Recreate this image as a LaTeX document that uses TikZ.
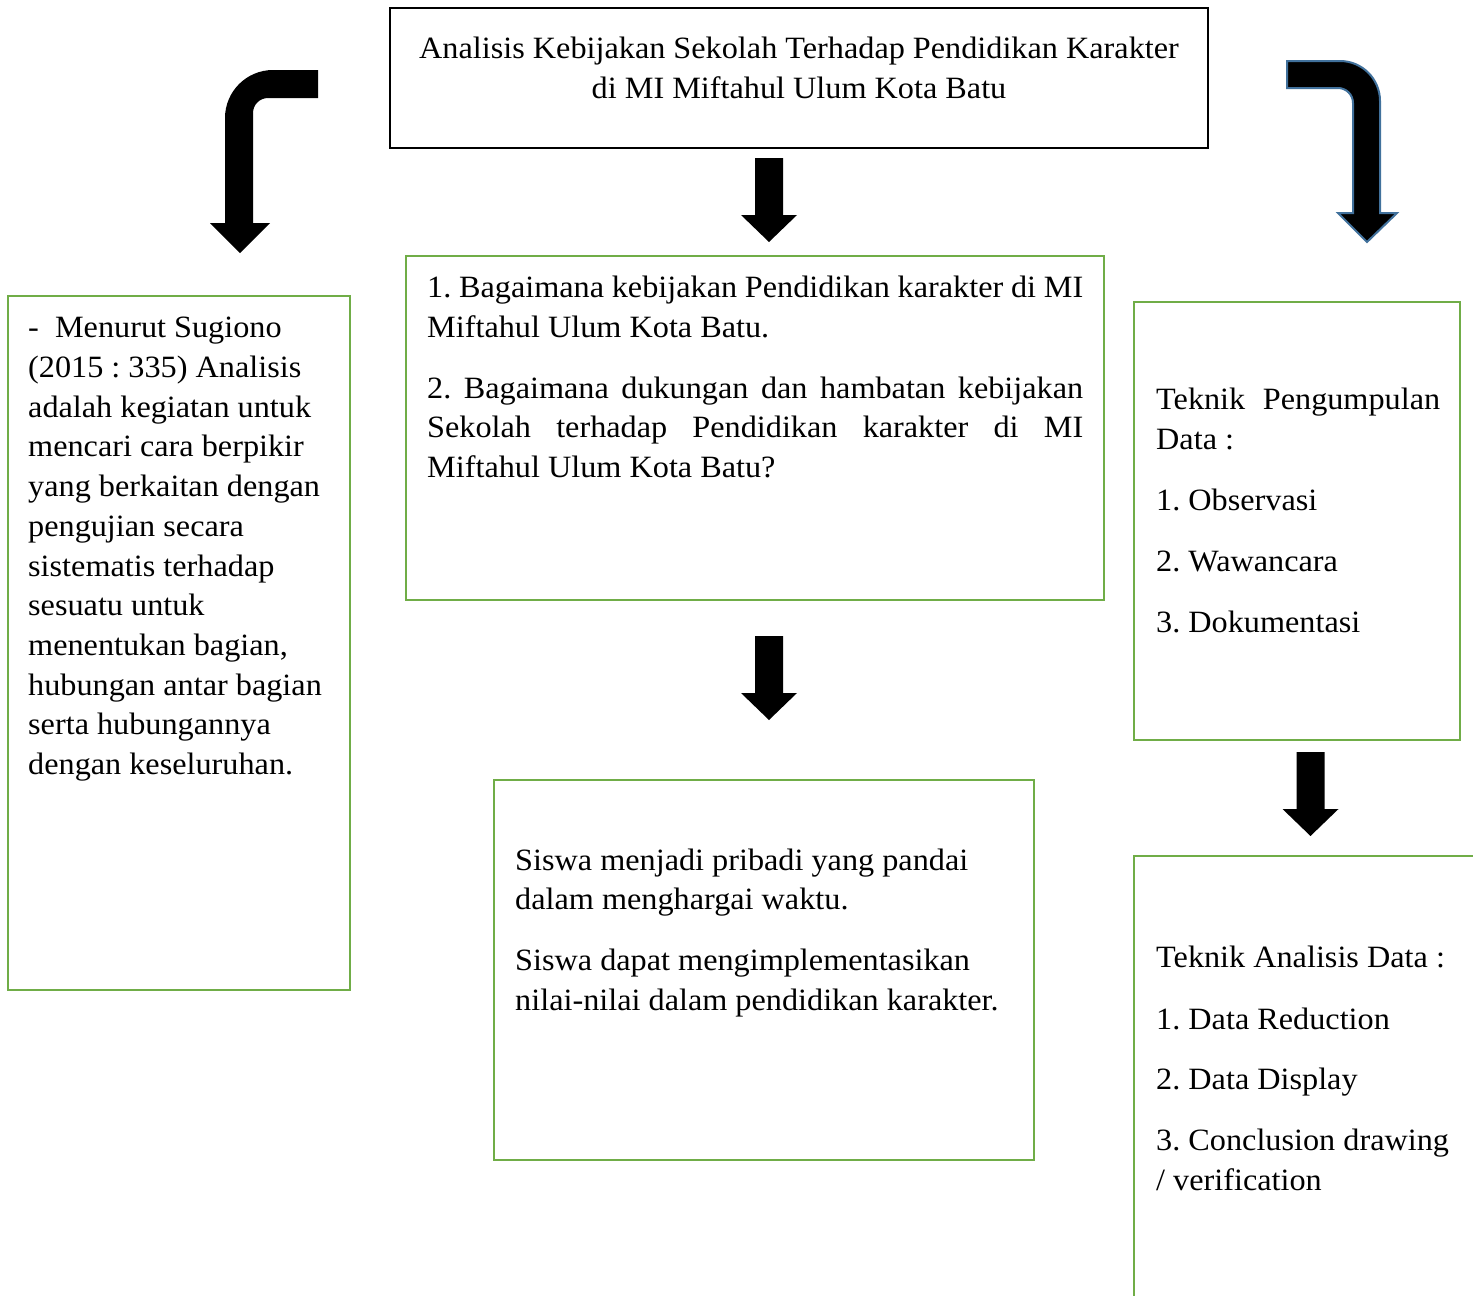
\documentclass[tikz,border=0pt]{standalone}
\usepackage{fontspec}
\setmainfont[FakeStretch=1.04]{Liberation Serif}
\frenchspacing
\definecolor{boxgreen}{HTML}{70AD47}
\definecolor{arrowblue}{HTML}{41719C}
\begin{document}
\begin{tikzpicture}[x=1pt,y=-1pt,
  box/.style={draw, line width=2.5pt, anchor=north west, inner sep=0pt, outer sep=0pt},
  greenbox/.style={box, draw=boxgreen},
  blackbox/.style={box, draw=black},
  txt/.style={anchor=base west, inner sep=0pt, font=\fontsize{31}{40}\selectfont},
  ctxt/.style={txt, anchor=base},
  downarrow/.pic={\fill[black] (-14,0) -- (14,0) -- (14,57) -- (28,57) -- (0,84) -- (-28,57) -- (-14,57) -- cycle;}]
\useasboundingbox (0,0) rectangle (1473,1296);
\clip (0,0) rectangle (1473,1296);
\fill[white] (0,0) rectangle (1473,1296);

% boxes
\node[blackbox, minimum width=818pt, minimum height=140pt] (top) at (390,8) {};
\node[greenbox, minimum width=698pt, minimum height=344pt] (q) at (406,256) {};
\node[greenbox, minimum width=540pt, minimum height=380pt] (res) at (494,780) {};
\node[greenbox, minimum width=342pt, minimum height=694pt] (def) at (8,296) {};
\node[greenbox, minimum width=326pt, minimum height=438pt] (col) at (1134,302) {};
\node[greenbox, minimum width=400pt, minimum height=500pt] (ana) at (1134,856) {};

% top text
\node[ctxt] (t1) at (799,58) {Analisis Kebijakan Sekolah Terhadap Pendidikan Karakter};
\node[ctxt] (t2) at (799,98) {di MI Miftahul Ulum Kota Batu};

% question box
\node[txt] (q1) at (427,297) {\makebox[656pt][s]{1. Bagaimana kebijakan Pendidikan karakter di MI}};
\node[txt] (q2) at (427,337) {Miftahul Ulum Kota Batu.};
\node[txt] (q3) at (427,398) {\makebox[656pt][s]{2. Bagaimana dukungan dan hambatan kebijakan}};
\node[txt] (q4) at (427,437) {\makebox[656pt][s]{Sekolah terhadap Pendidikan karakter di MI}};
\node[txt] (q5) at (427,477) {Miftahul Ulum Kota Batu?};

% result box
\node[txt] (r1) at (515,870) {Siswa menjadi pribadi yang pandai};
\node[txt] (r2) at (515,909) {dalam menghargai waktu.};
\node[txt] (r3) at (515,970) {Siswa dapat mengimplementasikan};
\node[txt] (r4) at (515,1010) {nilai-nilai dalam pendidikan karakter.};

% definition box
\node[txt] (d1) at (28,337) {-\ \ Menurut Sugiono};
\node[txt] (d2) at (28,377) {(2015 : 335) Analisis};
\node[txt] (d3) at (28,417) {adalah kegiatan untuk};
\node[txt] (d4) at (28,456) {mencari cara berpikir};
\node[txt] (d5) at (28,496) {yang berkaitan dengan};
\node[txt] (d6) at (28,536) {pengujian secara};
\node[txt] (d7) at (28,576) {sistematis terhadap};
\node[txt] (d8) at (28,615) {sesuatu untuk};
\node[txt] (d9) at (28,655) {menentukan bagian,};
\node[txt] (d10) at (28,695) {hubungan antar bagian};
\node[txt] (d11) at (28,734) {serta hubungannya};
\node[txt] (d12) at (28,774) {dengan keseluruhan.};

% collection box
\node[txt] (c1) at (1156,409) {\makebox[284pt][s]{Teknik Pengumpulan}};
\node[txt] (c2) at (1156,449) {Data :};
\node[txt] (c3) at (1156,510) {1. Observasi};
\node[txt] (c4) at (1156,571) {2. Wawancara};
\node[txt] (c5) at (1156,632) {3. Dokumentasi};

% analysis box
\node[txt] (a1) at (1156,967) {Teknik Analisis Data :};
\node[txt] (a2) at (1156,1029) {1. Data Reduction};
\node[txt] (a3) at (1156,1089) {2. Data Display};
\node[txt] (a4) at (1156,1150) {3. Conclusion drawing};
\node[txt] (a5) at (1156,1190) {/ verification};

% straight block arrows
\coordinate (arA) at (769,158);
\coordinate (arB) at (769,636);
\coordinate (arC) at (1310.5,752);
\pic at (arA) {downarrow};
\pic at (arB) {downarrow};
\pic at (arC) {downarrow};

% bent arrows
\fill[black] (318,70) -- (273,70) .. controls (246.5,70) and (225,91.5) .. (225,118)
  -- (225,223) -- (210,223) -- (240,253) -- (270,223) -- (253,223) -- (253,113)
  .. controls (253,104.7) and (259.7,98) .. (268,98) -- (318,98) -- cycle;
\filldraw[fill=black, draw=arrowblue, line width=2pt, line join=miter]
  (1287,61) -- (1340,61) .. controls (1362.1,61) and (1380,78.9) .. (1380,101)
  -- (1380,213) -- (1397,213) -- (1367,242) -- (1338,213) -- (1353,213) -- (1353,103)
  .. controls (1353,94.7) and (1346.3,88) .. (1338,88) -- (1287,88) -- cycle;
\end{tikzpicture}
\end{document}
